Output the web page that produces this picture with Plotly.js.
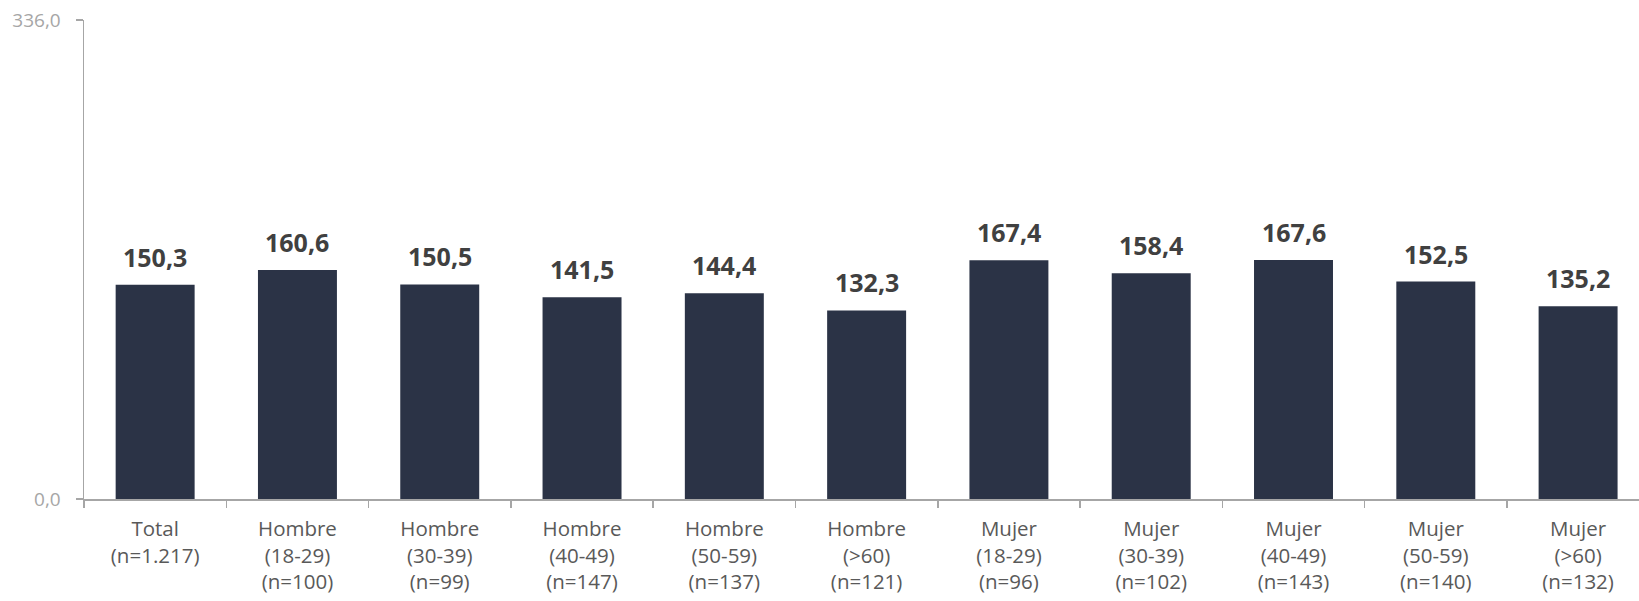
<!DOCTYPE html>
<html><head><meta charset="utf-8">
<script src="https://cdn.plot.ly/plotly-3.0.1.min.js"></script>
<style>html,body{margin:0;padding:0;background:#fff}#chart{width:1639px;height:601px}</style>
</head><body><div id="chart"></div>
<script>
const categories = [
  "Total<br>(n=1.217)",
  "Hombre<br>(18-29)<br>(n=100)",
  "Hombre<br>(30-39)<br>(n=99)",
  "Hombre<br>(40-49)<br>(n=147)",
  "Hombre<br>(50-59)<br>(n=137)",
  "Hombre<br>(>60)<br>(n=121)",
  "Mujer<br>(18-29)<br>(n=96)",
  "Mujer<br>(30-39)<br>(n=102)",
  "Mujer<br>(40-49)<br>(n=143)",
  "Mujer<br>(50-59)<br>(n=140)",
  "Mujer<br>(>60)<br>(n=132)"
];
const values = [150.3, 160.6, 150.5, 141.5, 144.4, 132.3, 167.4, 158.4, 167.6, 152.5, 135.2];
const yTickVals = [0, 336];
const yTickText = ["0,0", "336,0"];

const fmt = v => v.toFixed(1).replace(".", ",");

const trace = {
  type: "bar",
  x: categories,
  y: values,
  marker: {color: "#2b3346"},
  width: 0.555,
  hoverinfo: "none"
};

const annotations = values.map((v, i) => ({
  x: categories[i], y: v, xref: "x", yref: "y",
  text: fmt(v), showarrow: false,
  xanchor: "center", yanchor: "bottom", yshift: 9,
  font: {family: "Open Sans", size: 25, color: "#404040", weight: "bold"}
}));

const layout = {
  width: 1639, height: 601,
  margin: {l: 84, r: 0, t: 20, b: 102},
  paper_bgcolor: "#fff", plot_bgcolor: "#fff",
  showlegend: false,
  font: {family: "Open Sans"},
  annotations: annotations,
  xaxis: {
    type: "category",
    range: [-0.5, 10.428],
    showline: true, linecolor: "#a6a6a6", linewidth: 1.5,
    ticks: "outside", tickson: "boundaries", ticklen: 7, tickcolor: "#a6a6a6", tickwidth: 1.5,
    tickfont: {family: "Open Sans", size: 20.5, color: "#595959"},
    ticklabelstandoff: 11,
    tickangle: 0,
    showgrid: false, zeroline: false, fixedrange: true
  },
  yaxis: {
    range: [0, 336],
    tickvals: yTickVals, ticktext: yTickText,
    showline: true, linecolor: "#a6a6a6", linewidth: 1.5,
    ticks: "outside", ticklen: 7, tickcolor: "#a6a6a6", tickwidth: 1.5,
    tickfont: {family: "Open Sans", size: 19, color: "#a6a6a6"},
    ticklabelstandoff: 11,
    showgrid: false, zeroline: false, fixedrange: true
  }
};

Plotly.newPlot("chart", [trace], layout, {displayModeBar: false, staticPlot: true});
</script></body></html>
